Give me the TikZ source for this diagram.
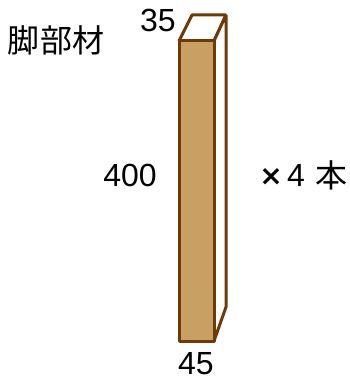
\documentclass[tikz,border=0pt]{standalone}
\usepackage{fontspec}
\setmainfont{Liberation Sans}
\newfontfamily\jp{Noto Sans CJK JP}
\newfontfamily\dvb{DejaVu Sans}[BoldFont={DejaVu Sans Bold}]
\definecolor{woodedge}{HTML}{6E3A08}
\definecolor{woodfill}{HTML}{C8A064}
\begin{document}
\begin{tikzpicture}[x=1pt,y=-1pt,
  lbl/.style={inner sep=0pt,font=\fontsize{32}{32}\selectfont},
  jlbl/.style={inner sep=0pt,font=\jp\fontsize{32}{32}\selectfont},
  edge/.style={draw=woodedge,line width=3pt,line join=bevel}]
\useasboundingbox (0,0) rectangle (349,382);
% block
\draw[edge,fill=white] (179,41) -- (192,15) -- (226,15) -- (214,41) -- cycle;
\draw[edge,fill=white] (214,41) -- (226,15) -- (226,307) -- (214,341) -- cycle;
\draw[edge,fill=woodfill] (179,41) rectangle (214,341);
% labels
\node[jlbl] (title) at (56,40) {脚部材};
\node[lbl] (w35) at (158,20) {35};
\node[lbl] (h400) at (130,175) {400};
\node[lbl] (d45) at (196,364) {45};
\node[inner sep=0pt,font=\dvb\bfseries\fontsize{28}{28}\selectfont] (times) at (271,177) {×};
\node[lbl] (four) at (296,175) {4};
\node[jlbl] (hon) at (331,175) {本};
\end{tikzpicture}
\end{document}
